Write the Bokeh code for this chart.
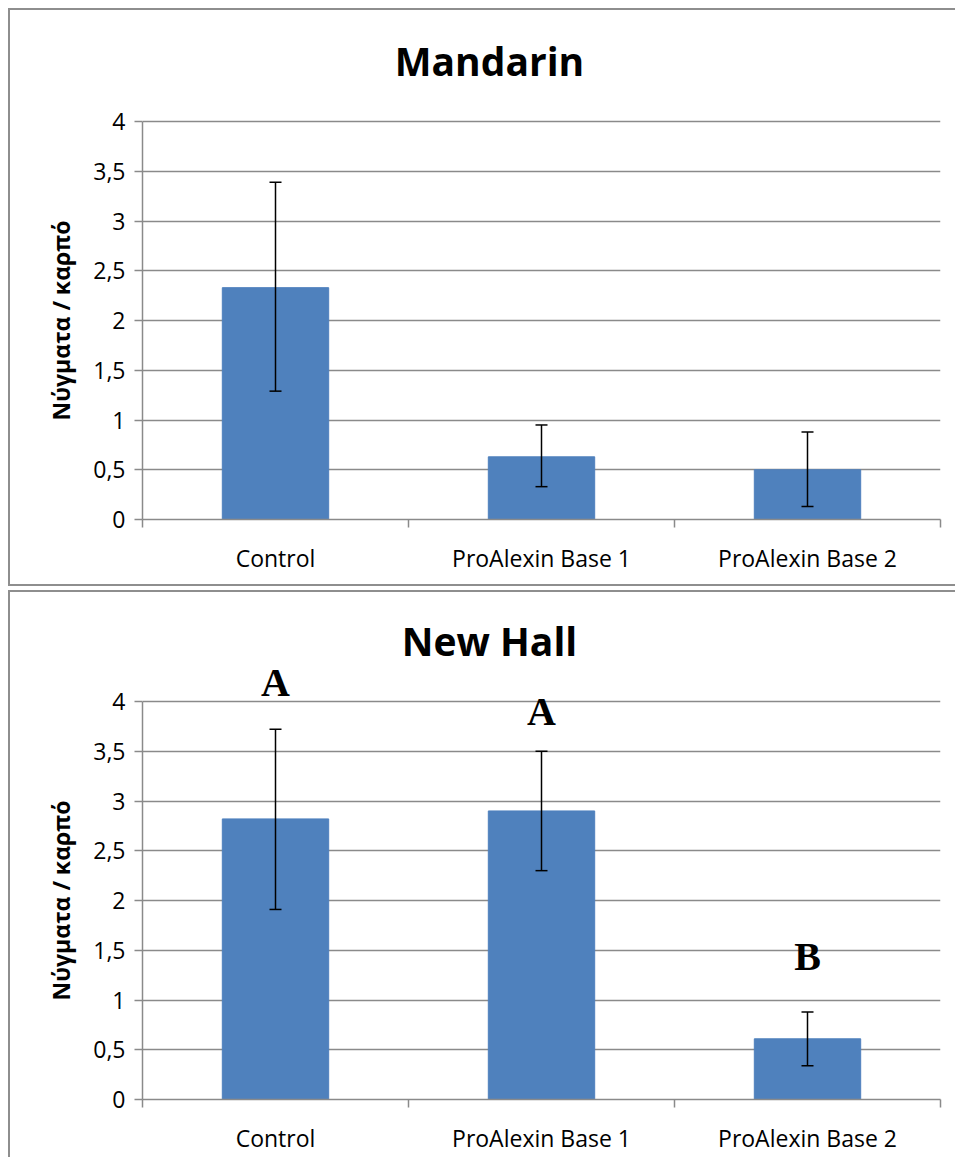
from bokeh.plotting import figure
from bokeh.models import (ColumnDataSource, Whisker, TeeHead, Label, FixedTicker,
                          CustomJSTickFormatter, Range1d, Title)
from bokeh.layouts import column
from bokeh.embed import file_html
from bokeh.resources import INLINE

categories = ["Control", "ProAlexin Base 1", "ProAlexin Base 2"]
y_ticks = [0, 0.5, 1, 1.5, 2, 2.5, 3, 3.5, 4]

mandarin_mean = [2.33, 0.63, 0.50]
mandarin_lower = [1.29, 0.33, 0.13]
mandarin_upper = [3.39, 0.95, 0.88]

newhall_mean = [2.82, 2.90, 0.61]
newhall_lower = [1.91, 2.30, 0.34]
newhall_upper = [3.72, 3.50, 0.88]

newhall_letters = ["A", "A", "B"]
newhall_letter_y = [4.19, 3.90, 1.44]

y_label = "Νύγματα / καρπό"

BAR = "#4F81BD"
GRAY = "#8a8a8a"
FONT = "Open Sans"

AXIS_PX = 398          # pixels from 0 to 4
EXTRA_PX = 80          # room above the axis top for title / letters
FRAME_H = AXIS_PX + EXTRA_PX
Y_END = 4 * FRAME_H / AXIS_PX


def make_chart(title, mean, lower, upper, height, mtop, mbottom, styles,
               letters=None, letter_y=None):
    xs = [i + 0.5 for i in range(len(categories))]
    src = ColumnDataSource(dict(x=xs, mean=mean, lower=lower, upper=upper))
    p = figure(width=947, height=height,
               x_range=Range1d(0, len(categories)), y_range=Range1d(0, Y_END),
               min_border_left=132, min_border_right=17,
               min_border_top=mtop, min_border_bottom=mbottom,
               toolbar_location=None, output_backend="svg",
               outline_line_color=None)
    p.styles = styles
    p.xgrid.visible = False
    p.ygrid.ticker = FixedTicker(ticks=y_ticks)
    p.ygrid.bounds = (0, 4)
    p.ygrid.grid_line_color = GRAY
    p.ygrid.grid_line_width = 1.5

    ya = p.yaxis[0]
    ya.bounds = (0, 4)
    ya.ticker = FixedTicker(ticks=y_ticks)
    ya.formatter = CustomJSTickFormatter(code="return tick.toString().replace('.', ',')")
    ya.major_tick_out = 8
    ya.major_tick_in = 0
    ya.minor_tick_out = 0
    ya.minor_tick_in = 0
    ya.axis_line_color = GRAY
    ya.axis_line_width = 1.5
    ya.major_tick_line_color = GRAY
    ya.major_tick_line_width = 1.5
    ya.major_label_text_font = FONT
    ya.major_label_text_font_size = "23px"
    ya.major_label_text_color = "black"
    ya.major_label_standoff = 9

    # y-axis title, placed along the 0..4 part of the frame
    p.add_layout(Title(text=y_label, align="left", offset=99,
                       text_font=FONT, text_font_style="bold",
                       text_font_size="23px", text_color="black", standoff=28),
                 "left")

    xa = p.xaxis[0]
    xa.ticker = FixedTicker(ticks=xs, minor_ticks=list(range(len(categories) + 1)))
    xa.formatter = CustomJSTickFormatter(args=dict(cats=categories),
                                         code="return cats[Math.floor(tick)]")
    xa.major_tick_out = 0
    xa.major_tick_in = 0
    xa.minor_tick_out = 8
    xa.minor_tick_in = 0
    xa.minor_tick_line_color = GRAY
    xa.minor_tick_line_width = 1.5
    xa.axis_line_color = GRAY
    xa.axis_line_width = 1.5
    xa.major_label_text_font = FONT
    xa.major_label_text_font_size = "23px"
    xa.major_label_text_color = "black"
    xa.major_label_standoff = 14

    p.vbar(x="x", top="mean", bottom=0, width=0.4, source=src,
           fill_color=BAR, line_color=BAR)

    w = Whisker(base="x", upper="upper", lower="lower", source=src,
                line_color="black", line_width=1.5,
                upper_head=TeeHead(size=12, line_color="black", line_width=1.5),
                lower_head=TeeHead(size=12, line_color="black", line_width=1.5))
    w.level = "annotation"
    p.add_layout(w)

    p.add_layout(Label(x=347, y=AXIS_PX + 61, x_units="screen", y_units="screen",
                       text=title, text_font=FONT, text_font_style="bold",
                       text_font_size="39px", text_align="center",
                       text_baseline="middle", text_color="black"))

    if letters:
        for xi, t, ly in zip(xs, letters, letter_y):
            p.add_layout(Label(x=xi, y=ly, text=t, text_font="Liberation Serif",
                               text_font_style="bold", text_font_size="40px",
                               text_align="center", text_baseline="middle",
                               text_color="black"))
    return p


border = "2px solid #8e8e8e"
p1 = make_chart("Mandarin", mandarin_mean, mandarin_lower, mandarin_upper,
                578, 31, 69,
                {"border-top": border, "border-left": border, "border-bottom": border})
p2 = make_chart("New Hall", newhall_mean, newhall_lower, newhall_upper,
                567, 29, 60,
                {"border-top": border, "border-left": border},
                newhall_letters, newhall_letter_y)

layout = column(p1, p2, spacing=4, margin=(8, 0, 0, 8))
open("out.html", "w").write(file_html(layout, INLINE))
